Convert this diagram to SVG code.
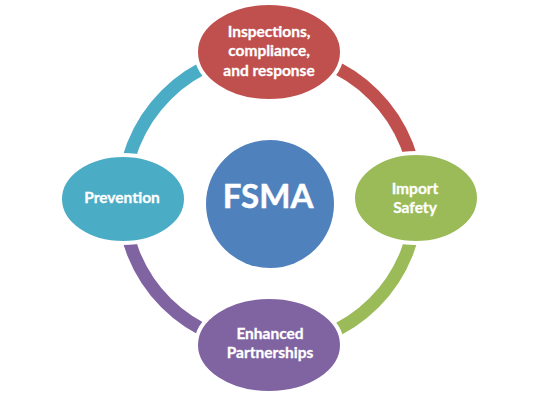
<svg xmlns="http://www.w3.org/2000/svg" width="537" height="399" viewBox="0 0 537 399">
<style>
.arc{fill:none;stroke-width:13}
.node{stroke:#fff;stroke-width:4}
.t{font-family:Lato,"Open Sans","Liberation Sans",sans-serif;font-weight:bold;fill:#fff;text-anchor:middle;font-size:15.5px;stroke:#fff;stroke-width:0.3}
.big{font-size:33px;stroke-width:0.5}
</style>
<rect width="537" height="399" fill="#fff"/>
<g id="connectors">
<path class="arc" stroke="#4BACC6" d="M123 199 A147 147 0 0 1 270 52"/>
<path class="arc" stroke="#C0504D" d="M270 52 A147 147 0 0 1 417 199"/>
<path class="arc" stroke="#9BBB59" d="M417 199 A147 147 0 0 1 270 346"/>
<path class="arc" stroke="#8064A2" d="M270 346 A147 147 0 0 1 123 199"/>
</g>
<g id="center">
<circle cx="270" cy="204" r="64" fill="#4F81BD"/>
<text class="t big" x="268" y="208">FSMA</text>
</g>
<g id="inspections">
<ellipse class="node" cx="269" cy="52" rx="73" ry="49" fill="#C0504D"/>
<text class="t" x="269" y="37">Inspections,</text>
<text class="t" x="269" y="56">compliance,</text>
<text class="t" x="269" y="76">and response</text>
</g>
<g id="import">
<ellipse class="node" cx="416" cy="198" rx="63" ry="45" fill="#9BBB59"/>
<text class="t" x="415" y="194">Import</text>
<text class="t" x="415" y="213">Safety</text>
</g>
<g id="partnerships">
<ellipse class="node" cx="269" cy="345" rx="73" ry="48" fill="#8064A2"/>
<text class="t" x="270" y="339">Enhanced</text>
<text class="t" x="270" y="358">Partnerships</text>
</g>
<g id="prevention">
<ellipse class="node" cx="123" cy="199" rx="63" ry="44" fill="#4BACC6"/>
<text class="t" x="122" y="203">Prevention</text>
</g>
</svg>
